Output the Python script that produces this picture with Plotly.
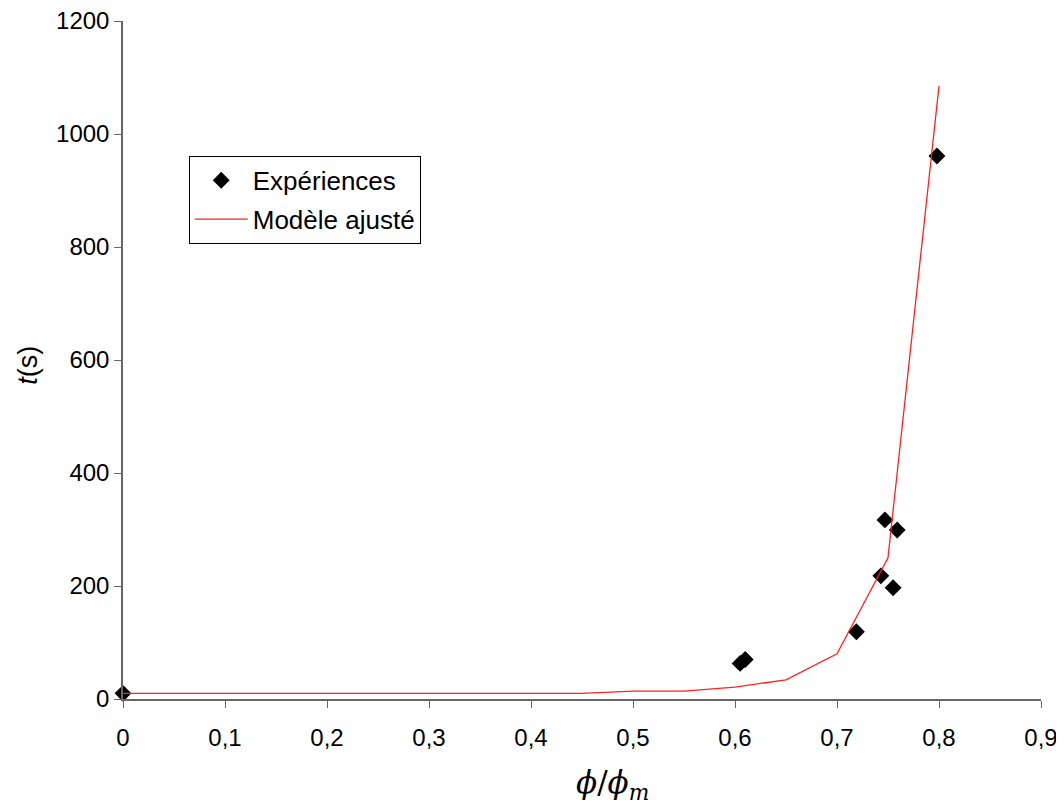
import plotly.graph_objects as go

# Experimental points
exp_x = [0.0, 0.605, 0.61, 0.719, 0.743, 0.747, 0.755, 0.759, 0.798]
exp_t = [10, 63, 70, 119, 218, 317, 197, 299, 961]

# Fitted model
model_x = [0.0, 0.45, 0.5, 0.55, 0.6, 0.65, 0.7, 0.75, 0.8]
model_t = [10, 10, 14, 14, 21, 34, 80, 250, 1085]

x_ticks = [0, 0.1, 0.2, 0.3, 0.4, 0.5, 0.6, 0.7, 0.8, 0.9]
y_ticks = [0, 200, 400, 600, 800, 1000, 1200]

x_title = "<i>ϕ</i>/<i>ϕ</i><sub><i>m</i></sub>"
y_title = "<i>t</i>(s)"

fig = go.Figure()
fig.add_trace(go.Scatter(
    x=exp_x, y=exp_t, mode="markers", name="Expériences", legendgroup="a",
    marker=dict(symbol="diamond", size=13, color="black"),
    cliponaxis=False,
))
fig.add_trace(go.Scatter(
    x=model_x, y=model_t, mode="lines", name="Modèle ajusté", legendgroup="b",
    line=dict(color="#ff2020", width=1.3),
))

font_main = "Liberation Sans, Arial, sans-serif"

fig.update_layout(
    width=1056, height=795,
    margin=dict(l=115, r=23, t=13, b=104, autoexpand=False),
    paper_bgcolor="white", plot_bgcolor="white",
    separators=", ",
    font=dict(family=font_main, size=24, color="black"),
    showlegend=True,
    legend=dict(
        x=0.0716, y=0.801, xanchor="left", yanchor="top",
        bordercolor="black", borderwidth=1, bgcolor="white",
        font=dict(size=26, family=font_main),
        tracegroupgap=2, itemwidth=53,
    ),
    xaxis=dict(
        range=[0, 0.9], tickvals=x_ticks, showgrid=False, zeroline=False,
        showline=True, linecolor="#666", linewidth=1.5,
        ticks="outside", ticklen=7, tickcolor="#666",
        tickfont=dict(size=24, family=font_main),
        ticklabeloverflow="allow", automargin=False, ticklabelstandoff=9,
    ),
    yaxis=dict(
        range=[0, 1200], tickvals=y_ticks, showgrid=False, zeroline=False,
        showline=True, linecolor="#666", linewidth=1.5,
        ticks="outside", ticklen=7, tickcolor="#666",
        tickfont=dict(size=24, family=font_main),
        ticklabeloverflow="allow", automargin=False,
    ),
    annotations=[
        dict(text=x_title, xref="paper", yref="paper", x=0.5335, y=-0.1254,
             xanchor="center", yanchor="middle", showarrow=False,
             font=dict(size=31, family="DejaVu Serif, Times New Roman, serif")),
        dict(text=y_title, xref="paper", yref="paper", x=-0.1038, y=0.4926,
             xanchor="center", yanchor="middle", showarrow=False, textangle=-90,
             font=dict(size=27, family=font_main)),
    ],
)

fig.write_html("out.html")
